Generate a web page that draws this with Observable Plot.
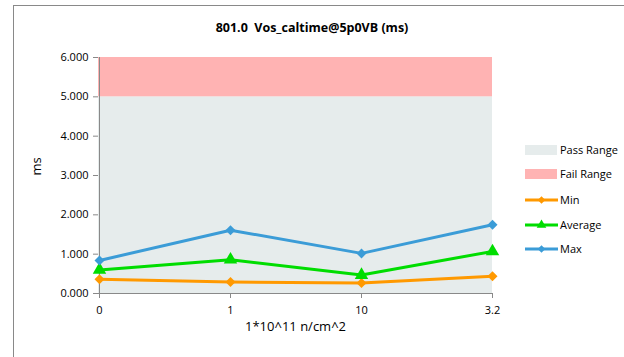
<!DOCTYPE html>
<html><head><meta charset="utf-8">
<script src="https://cdn.jsdelivr.net/npm/d3@7"></script>
<script src="https://cdn.jsdelivr.net/npm/@observablehq/plot@0.6"></script>
<style>
html,body{margin:0;padding:0;background:#fff;}
#wrap{position:relative;width:624px;height:357px;overflow:hidden;font-family:"Open Sans",sans-serif;}
#border{position:absolute;left:13px;top:5px;width:700px;height:400px;border-left:1px solid #898989;border-top:1px solid #898989;}
#title{position:absolute;left:0;width:624px;top:19px;text-align:center;font-weight:bold;font-size:12.5px;color:#000;}
.leg{position:absolute;left:525px;font-size:11px;color:#000;}
.leg span{position:absolute;left:35px;top:-8px;white-space:nowrap;}
#chart{position:absolute;left:0;top:0;}
</style></head>
<body><div id="wrap"><div id="border"></div><div id="chart"></div><div id="title">801.0&nbsp; Vos_caltime@5p0VB (ms)</div><div id="legend"></div></div>
<script>
const categories = ["0", "1", "10", "3.2"];
const minValues = [0.36, 0.29, 0.27, 0.44];
const avgValues = [0.60, 0.86, 0.47, 1.07];
const maxValues = [0.84, 1.61, 1.02, 1.75];
const passRange = [0, 5];
const failRange = [5, 6];
const yTicks = [0, 1, 2, 3, 4, 5, 6];
const seriesNames = ["Min", "Average", "Max"];
const seriesColors = ["#ff9900", "#00dd00", "#3b9cd7"];
const seriesSymbols = ["diamond2", "triangle", "diamond2"];
const passColor = "#e6ecec";
const failColor = "#ffb3b3";

const seriesValues = [minValues, avgValues, maxValues];
const rows = seriesNames.flatMap((s, i) => categories.map((c, j) => ({series: s, x: c, y: seriesValues[i][j]})));

const chart = Plot.plot({
  width: 624, height: 357,
  marginLeft: 98, marginRight: 132, marginTop: 57, marginBottom: 64,
  style: {fontFamily: "'Open Sans', sans-serif", fontSize: "11px", background: "transparent", color: "#000"},
  x: {type: "point", domain: categories, padding: 0, label: null},
  y: {domain: [0, 6], ticks: yTicks, label: null},
  marks: [
    Plot.rect([{y1: passRange[0], y2: passRange[1]}], {y1: "y1", y2: "y2", fill: passColor}),
    Plot.rect([{y1: failRange[0], y2: failRange[1]}], {y1: "y1", y2: "y2", fill: failColor}),
    Plot.ruleX([categories[0]], {stroke: "#898989"}),
    Plot.ruleY([0], {stroke: "#898989"}),
    Plot.axisY({ticks: yTicks, tickFormat: d3.format(".3f"), tickSize: 5, tickPadding: 5, stroke: "#898989", label: null}),
    Plot.axisX({tickSize: 5, tickPadding: 8, stroke: "#898989", label: null}),
    ...seriesNames.map((s, i) => Plot.line(rows.filter(r => r.series === s), {x: "x", y: "y", stroke: seriesColors[i], strokeWidth: 3})),
    ...seriesNames.map((s, i) => Plot.dot(rows.filter(r => r.series === s), {x: "x", y: "y", fill: seriesColors[i], symbol: seriesSymbols[i], r: i === 1 ? 5 : 4.5})),
    Plot.text(["ms"], {frameAnchor: "left", dx: -62, rotate: -90, fontSize: 13}),
    Plot.text(["1*10^11 n/cm^2"], {frameAnchor: "bottom", dy: 37, fontSize: 13})
  ]
});
document.getElementById("chart").appendChild(chart);

// legend
const legend = document.getElementById("legend");
const legItems = [
  {name: "Pass Range", type: "rect", color: passColor},
  {name: "Fail Range", type: "rect", color: failColor},
  ...seriesNames.map((s, i) => ({name: s, type: "line", color: seriesColors[i], symbol: seriesSymbols[i]}))
];
const legY = [150, 174, 200, 225, 249];
legItems.forEach((it, i) => {
  const d = document.createElement("div");
  d.className = "leg";
  d.style.top = legY[i] + "px";
  let sw;
  if (it.type === "rect") {
    sw = `<svg width="34" height="10" style="position:absolute;left:0;top:-5px"><rect x="0" y="0" width="32" height="10" fill="${it.color}"/></svg>`;
  } else {
    const sym = d3.symbol(it.symbol === "triangle" ? d3.symbolTriangle : d3.symbolDiamond2, it.symbol === "triangle" ? 40 : 36)();
    sw = `<svg width="34" height="12" style="position:absolute;left:0;top:-6px"><line x1="0" x2="33" y1="6" y2="6" stroke="${it.color}" stroke-width="3"/><path d="${sym}" transform="translate(16.5,6)" fill="${it.color}"/></svg>`;
  }
  d.innerHTML = sw + `<span>${it.name}</span>`;
  legend.appendChild(d);
});
</script></body></html>
